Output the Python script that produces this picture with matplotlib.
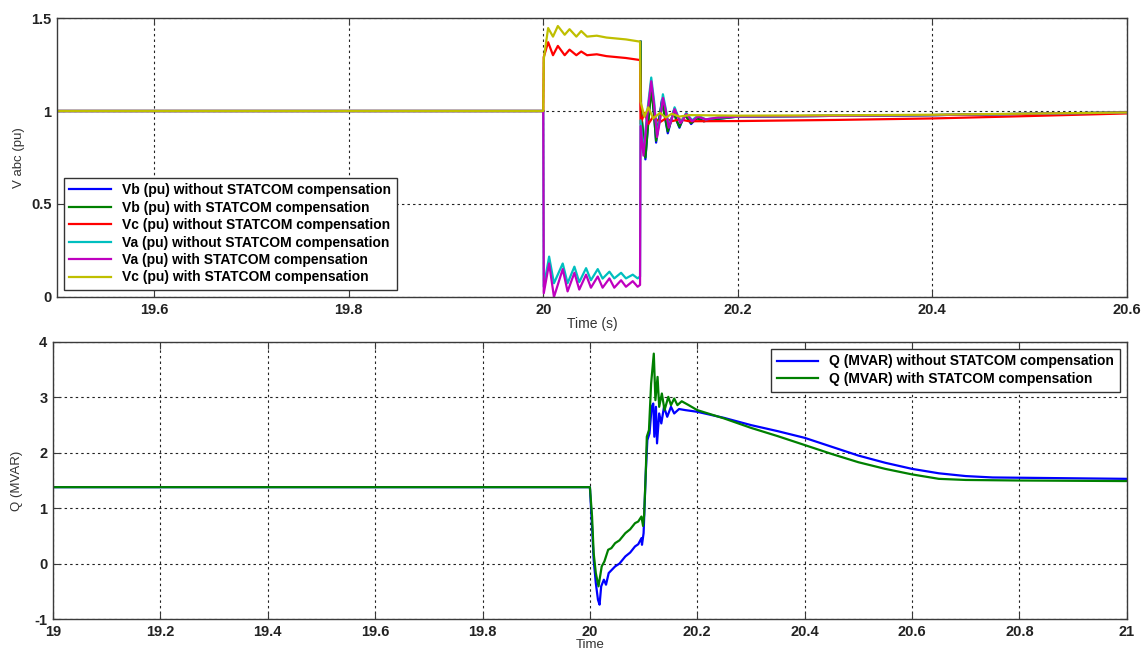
import numpy as np
import matplotlib
matplotlib.use('Agg')
import matplotlib.pyplot as plt

plt.rcParams['font.family'] = ['Liberation Sans', 'DejaVu Sans']

# ---------------- top plot: phase voltages (pu) ----------------
# fault window (20.0 - 20.1 s)
fault_t_va = [19.5, 20.0, 20.0005, 20.006, 20.011, 20.02, 20.025, 20.032, 20.037, 20.044,
              20.049, 20.056, 20.061, 20.068, 20.073, 20.08, 20.085, 20.092, 20.097, 20.0995]
va_without_fault = [1.0, 1.0, 0.055, 0.217, 0.074, 0.18, 0.074, 0.163, 0.08, 0.155,
                    0.09, 0.15, 0.099, 0.136, 0.10, 0.13, 0.10, 0.12, 0.10, 0.11]
va_with_fault = [1.0, 1.0, 0.02, 0.18, 0.0, 0.15, 0.03, 0.13, 0.04, 0.12,
                 0.05, 0.11, 0.05, 0.10, 0.05, 0.09, 0.055, 0.085, 0.055, 0.065]

fault_t_vc = [19.5, 20.0, 20.0005, 20.005, 20.01, 20.015, 20.022, 20.027, 20.034, 20.039,
              20.045, 20.055, 20.065, 20.075, 20.085, 20.0995]
vc_without_fault = [1.0, 1.0, 1.29, 1.37, 1.30, 1.35, 1.30, 1.33, 1.30, 1.32,
                    1.30, 1.305, 1.295, 1.29, 1.285, 1.274]
vc_with_fault = [1.0, 1.0, 1.28, 1.446, 1.40, 1.457, 1.41, 1.44, 1.40, 1.43,
                 1.40, 1.405, 1.395, 1.39, 1.385, 1.373]

# after clearing (20.1 s onwards)
post_t_va = [20.1, 20.103, 20.107, 20.111, 20.114, 20.117, 20.12, 20.123, 20.126, 20.129,
             20.132, 20.135, 20.138, 20.141, 20.144, 20.147, 20.15, 20.153, 20.159,
             20.167, 20.18, 20.2, 20.3, 20.4, 20.5, 20.6]
va_without_post = [0.95, 0.78, 1.0, 1.18, 1.05, 0.87, 0.96, 1.09, 1.01, 0.92,
                   0.96, 1.02, 0.98, 0.94, 0.96, 0.99, 0.97, 0.95, 0.975,
                   0.955, 0.965, 0.97, 0.974, 0.978, 0.985, 0.992]
va_with_post = [0.92, 0.76, 0.98, 1.16, 1.03, 0.86, 0.95, 1.07, 1.0, 0.91,
                0.955, 1.01, 0.975, 0.935, 0.955, 0.985, 0.965, 0.945, 0.97,
                0.955, 0.965, 0.97, 0.974, 0.978, 0.985, 0.992]

# Vb lies under Vc (with) before and during the fault, so only its
# pre-fault level and its post-fault swing are listed
post_t_vb = [20.1, 20.1005, 20.105, 20.108, 20.111, 20.114, 20.116, 20.119, 20.122, 20.125,
             20.128, 20.131, 20.134, 20.137, 20.14, 20.143, 20.146, 20.152, 20.158,
             20.165, 20.175, 20.2, 20.3, 20.4, 20.5, 20.6]
vb_without_post = [1.373, 1.0, 0.74, 0.95, 1.14, 0.98, 0.83, 0.95, 1.06, 0.97,
                   0.88, 0.94, 1.0, 0.95, 0.91, 0.95, 0.98, 0.93, 0.965,
                   0.945, 0.955, 0.97, 0.974, 0.978, 0.985, 0.992]
vb_with_post = [1.373, 1.0, 0.75, 0.94, 1.12, 0.97, 0.84, 0.95, 1.05, 0.97,
                0.89, 0.94, 0.995, 0.95, 0.915, 0.95, 0.975, 0.935, 0.96,
                0.945, 0.955, 0.97, 0.974, 0.978, 0.985, 0.992]

post_t_vc = [20.1, 20.104, 20.108, 20.113, 20.12, 20.126, 20.132, 20.14, 20.15,
             20.2, 20.3, 20.4, 20.5, 20.6]
vc_without_post = [0.93, 0.99, 0.93, 0.97, 0.94, 0.96, 0.945, 0.955, 0.945,
                   0.946, 0.952, 0.96, 0.973, 0.987]
vc_with_post = [1.05, 0.97, 1.02, 0.96, 0.99, 0.965, 0.985, 0.97, 0.978,
                0.975, 0.977, 0.98, 0.986, 0.992]

# ---------------- bottom plot: reactive power (MVAR) ----------------
q_without_t = [19.0, 20.0, 20.004, 20.007, 20.011, 20.015, 20.018, 20.021, 20.026, 20.030,
               20.035, 20.04, 20.047, 20.055, 20.066, 20.075, 20.084, 20.09, 20.096,
               20.097, 20.1, 20.104, 20.107,
               20.111, 20.115, 20.118, 20.12, 20.123, 20.125, 20.129, 20.133, 20.138,
               20.144, 20.151, 20.157, 20.166, 20.178, 20.2, 20.25, 20.3, 20.35, 20.4,
               20.45, 20.5, 20.55, 20.6, 20.65, 20.7, 20.75, 20.8, 21.0]
q_without = [1.38, 1.38, 0.67, 0.07, -0.35, -0.65, -0.74, -0.41, -0.29, -0.38,
             -0.17, -0.12, -0.05, 0.0, 0.13, 0.2, 0.31, 0.35, 0.46,
             0.34, 0.55, 1.63, 2.23,
             2.35, 2.83, 2.89, 2.29, 2.83, 2.17, 2.71, 2.53, 2.83,
             2.65, 2.83, 2.71, 2.79, 2.77, 2.74, 2.63, 2.50, 2.39, 2.27,
             2.11, 1.95, 1.82, 1.71, 1.63, 1.58, 1.555, 1.55, 1.53]

q_with_t = [19.0, 20.0, 20.004, 20.007, 20.011, 20.016, 20.022, 20.027, 20.034, 20.04,
            20.047, 20.055, 20.066, 20.075, 20.084, 20.09, 20.096, 20.099, 20.101,
            20.104, 20.106, 20.11, 20.114,
            20.119, 20.122, 20.126, 20.129, 20.134, 20.139, 20.146, 20.151, 20.157,
            20.163, 20.171, 20.184, 20.2, 20.25, 20.3, 20.35, 20.4, 20.45, 20.5,
            20.55, 20.6, 20.65, 20.7, 20.8, 21.0]
q_with = [1.38, 1.38, 0.85, 0.19, -0.17, -0.41, -0.05, 0.04, 0.25, 0.28,
          0.37, 0.42, 0.55, 0.62, 0.73, 0.76, 0.85, 0.68, 0.88,
          1.63, 2.29, 2.41, 3.25,
          3.79, 2.95, 3.37, 2.83, 3.07, 2.77, 3.01, 2.86, 2.98,
          2.86, 2.93, 2.86, 2.77, 2.62, 2.45, 2.30, 2.14, 1.98, 1.83,
          1.71, 1.61, 1.53, 1.51, 1.50, 1.49]

top_labels = ['Vb (pu) without STATCOM compensation',
              'Vb (pu) with STATCOM compensation',
              'Vc (pu) without STATCOM compensation',
              'Va (pu) without STATCOM compensation',
              'Va (pu) with STATCOM compensation',
              'Vc (pu) with STATCOM compensation']
top_colors = ['#0000ff', '#008000', '#ff0000', '#00bfbf', '#bf00bf', '#bfbf00']
bottom_labels = ['Q (MVAR) without STATCOM compensation',
                 'Q (MVAR) with STATCOM compensation']

pre_t = [19.5, 20.0, 20.0]
pre_v = [1.0, 1.0, np.nan]
vb_t = pre_t + post_t_vb
va_t = fault_t_va + post_t_va
vc_t = fault_t_vc + post_t_vc

series = [(vb_t, pre_v + vb_without_post), (vb_t, pre_v + vb_with_post),
          (vc_t, vc_without_fault + vc_without_post),
          (va_t, va_without_fault + va_without_post),
          (va_t, va_with_fault + va_with_post),
          (vc_t, vc_with_fault + vc_with_post)]

fig = plt.figure(figsize=(11.44, 6.53), dpi=100)
ax1 = fig.add_axes([0.0498, 0.5452, 0.9352, 0.4272])
ax2 = fig.add_axes([0.0463, 0.0520, 0.9387, 0.4243])

spine_col = '#3a3a3a'
grid_kw = dict(color='#222222', linestyle=(0, (2.2, 2.8)), linewidth=0.8)


def style_axes(ax):
    for s in ax.spines.values():
        s.set_color(spine_col)
        s.set_linewidth(1.0)
    ax.tick_params(direction='in', top=True, right=True, length=5,
                   color=spine_col, labelsize=10.5, pad=4)
    for lab in ax.get_xticklabels() + ax.get_yticklabels():
        lab.set_fontweight('bold')
        lab.set_color('#222222')
    ax.grid(True, **grid_kw)


for (t, v), lab, col in zip(series, top_labels, top_colors):
    ax1.plot(t, v, color=col, lw=1.6, label=lab)

ax1.set_xlim(19.5, 20.6)
ax1.set_ylim(0, 1.5)
ax1.set_xticks([19.6, 19.8, 20.0, 20.2, 20.4, 20.6])
ax1.set_xticklabels(['19.6', '19.8', '20', '20.2', '20.4', '20.6'])
ax1.set_yticks([0, 0.5, 1, 1.5])
ax1.set_yticklabels(['0', '0.5', '1', '1.5'])
style_axes(ax1)
ax1.set_xlabel('Time (s)', fontsize=10, color='#333333', labelpad=0)
ax1.set_ylabel('V abc (pu)', fontsize=9.5, color='#333333', labelpad=4)
leg1 = ax1.legend(loc='lower left', prop={'weight': 'bold', 'size': 10},
                  frameon=True, fancybox=False, framealpha=1, borderaxespad=0.5,
                  handlelength=3.0, labelspacing=0.25, borderpad=0.4)
leg1.get_frame().set_edgecolor('#333333')
leg1.get_frame().set_linewidth(1.0)

ax2.plot(q_without_t, q_without, color='#0000ff', lw=1.6, label=bottom_labels[0])
ax2.plot(q_with_t, q_with, color='#008000', lw=1.6, label=bottom_labels[1])
ax2.set_xlim(19, 21)
ax2.set_ylim(-1, 4)
xt = np.round(np.arange(19, 21.01, 0.2), 1)
ax2.set_xticks(xt)
ax2.set_xticklabels([('%g' % v) for v in xt])
ax2.set_yticks(range(-1, 5))
ax2.set_yticklabels([str(v) for v in range(-1, 5)])
style_axes(ax2)
ax2.set_xlabel('Time', fontsize=9.5, color='#333333', labelpad=0)
ax2.set_ylabel('Q (MVAR)', fontsize=9.5, color='#333333', labelpad=8)
leg2 = ax2.legend(loc='upper right', prop={'weight': 'bold', 'size': 10},
                  frameon=True, fancybox=False, framealpha=1, borderaxespad=0.5,
                  handlelength=3.0, labelspacing=0.25, borderpad=0.4)
leg2.get_frame().set_edgecolor('#333333')
leg2.get_frame().set_linewidth(1.0)

fig.savefig('out.png', dpi=100)
